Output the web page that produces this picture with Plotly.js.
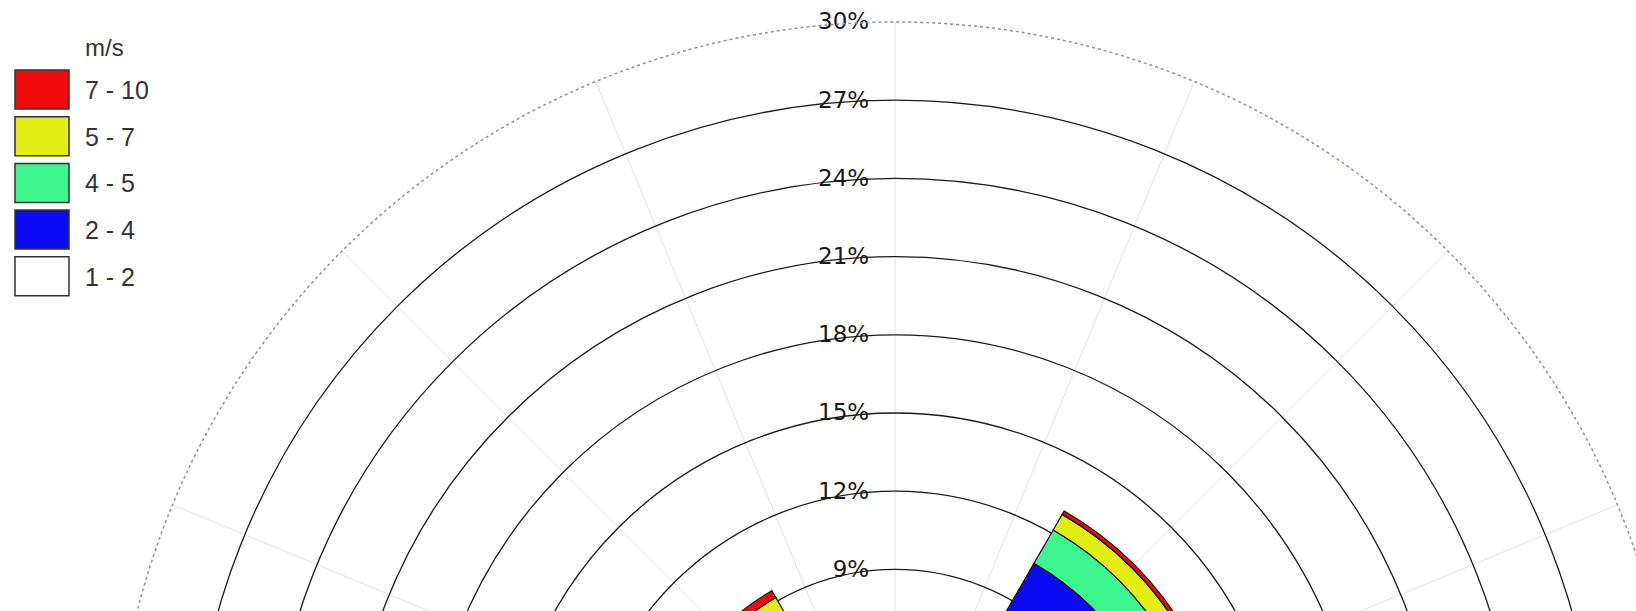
<!DOCTYPE html>
<html><head><meta charset="utf-8">
<script src="https://cdn.plot.ly/plotly-3.0.1.min.js"></script>
<style>html,body{margin:0;padding:0;overflow:hidden;background:#fff}#chart{width:1800px;height:1700px}</style>
</head><body><div id="chart"></div>
<script>
// ---- data ----
const directions = ['NE', 'NW'];
const directionAngles = [45, 315];
const speedBins = ['1 - 2', '2 - 4', '4 - 5', '5 - 7', '7 - 10'];
const binColors = ['#ffffff', '#0a0af5', '#3cf58c', '#e2ee14', '#f00a0a'];
const freq_1_2 = [4.2, 3.0];
const freq_2_4 = [6.46, 3.6];
const freq_4_5 = [1.48, 1.6];
const freq_5_7 = [0.69, 0.95];
const freq_7_10 = [0.15, 0.30];
const radialTicks = [3, 6, 9, 12, 15, 18, 21, 24, 27, 30];
const unitLabel = 'm/s';

// ---- geometry ----
const W = 1800, H = 1700, cx = 895, cy = 804, R = 782;
const rMax = 30, rMax2 = 30.05, R2 = R * rMax2 / rMax;
const px = v => v / W, py = v => 1 - v / H;
const PAD = '\u00a0\u00a0\u00a0';

const series = [freq_1_2, freq_2_4, freq_4_5, freq_5_7, freq_7_10];
const traces = series.map((vals, i) => ({
  type: 'barpolar',
  r: vals,
  theta: directionAngles,
  width: directionAngles.map(() => 30),
  name: speedBins[i],
  marker: {color: binColors[i], line: {color: '#111', width: 1.2}},
  subplot: 'polar',
  showlegend: false,
  hoverinfo: 'skip'
}));

// legend drawn as shapes + annotations
const shapes = [], annotations = [];
const legendOrder = speedBins.map((_, i) => i).reverse();
legendOrder.forEach((bi, row) => {
  const top = 70 + row * 46.7;
  shapes.push({type: 'rect', xref: 'paper', yref: 'paper',
    x0: px(15), x1: px(69), y0: py(top), y1: py(top + 39),
    fillcolor: binColors[bi], line: {color: '#333', width: 1.5}});
  annotations.push({xref: 'paper', yref: 'paper', x: px(83), y: py(top + 20),
    xanchor: 'left', yanchor: 'middle', showarrow: false, text: speedBins[bi],
    font: {family: 'Liberation Sans, Arial, sans-serif', size: 25, color: '#333'}});
});
annotations.push({xref: 'paper', yref: 'paper', x: px(83), y: py(48),
  xanchor: 'left', yanchor: 'middle', showarrow: false, text: unitLabel,
  font: {family: 'Liberation Sans, Arial, sans-serif', size: 24, color: '#333'}});

const layout = {
  width: W, height: H,
  margin: {l: 0, r: 0, t: 0, b: 0},
  paper_bgcolor: '#fff',
  showlegend: false,
  polar: {
    domain: {x: [px(cx - R), px(cx + R)], y: [py(cy + R), py(cy - R)]},
    bgcolor: 'rgba(0,0,0,0)',
    barmode: 'stack',
    radialaxis: {
      range: [0, rMax], angle: 90, tickangle: 90, side: 'counterclockwise',
      tickvals: radialTicks, ticktext: radialTicks.map(v => v + '%' + PAD),
      showline: false, ticks: '', gridcolor: '#1a1a1a', gridwidth: 1.3,
      tickfont: {family: 'DejaVu Sans, sans-serif', size: 23, color: '#1a1a1a'}
    },
    angularaxis: {
      rotation: 90, direction: 'clockwise', dtick: 22.5, tick0: 0,
      showticklabels: false, ticks: '', showline: false,
      gridcolor: '#e2e2e2', gridwidth: 1
    }
  },
  polar2: {
    domain: {x: [px(cx - R2), px(cx + R2)], y: [py(cy + R2), py(cy - R2)]},
    bgcolor: 'rgba(0,0,0,0)',
    radialaxis: {range: [0, rMax2], tickvals: [rMax], showticklabels: false, ticks: '',
      showline: false, gridcolor: '#8a90ad', gridwidth: 1.5, griddash: 'dot'},
    angularaxis: {showgrid: false, showticklabels: false, ticks: '', showline: false}
  },
  shapes: shapes,
  annotations: annotations
};

// empty trace so polar2 (outer dotted ring) is rendered
traces.push({type: 'scatterpolar', r: [], theta: [], subplot: 'polar2', showlegend: false});

Plotly.newPlot('chart', traces, layout, {displayModeBar: false, staticPlot: true});
</script>
</body></html>
